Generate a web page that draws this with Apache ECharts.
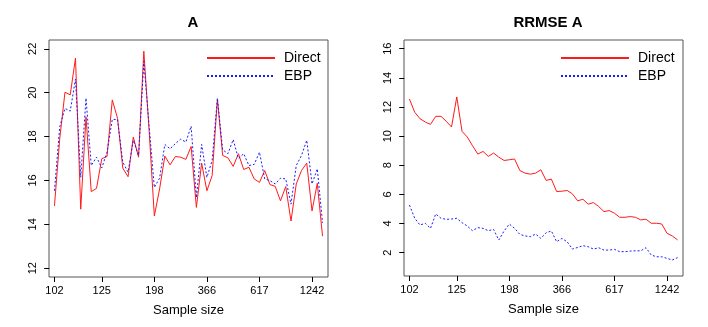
<!DOCTYPE html>
<html>
<head>
<meta charset="utf-8">
<script src="https://cdn.jsdelivr.net/npm/echarts@6/dist/echarts.min.js"></script>
<style>
html,body{margin:0;padding:0;background:#fff;}
#main{width:708px;height:327px;}
</style>
</head>
<body>
<div id="main"></div>
<script>
// x tick positions (domain index) and their sample size labels
var xTickIdx = [1, 10, 20, 30, 40, 50];
var xTickLabels = ['102', '125', '198', '366', '617', '1242'];

var yTicksA = [12, 14, 16, 18, 20, 22];
var yTicksR = [2, 4, 6, 8, 10, 12, 14, 16];

// panel A: estimates
var directA = [14.84, 17.9, 20.02, 19.9, 21.58, 14.69, 18.9, 15.49, 15.64, 16.99,
    17.09, 19.67, 18.83, 16.56, 16.17, 17.98, 17.06, 21.89, 18.3, 14.38,
    15.61, 17.11, 16.71, 17.09, 17.06, 16.96, 17.55, 14.77, 16.79, 15.53,
    16.22, 19.7, 17.14, 17.03, 16.64, 17.22, 16.5, 16.6, 16.07, 15.91,
    16.45, 15.81, 15.73, 15.07, 15.72, 14.15, 15.84, 16.45, 16.79, 14.61,
    15.87, 13.46];
var ebpA = [15.53, 18.44, 19.28, 19.16, 20.62, 16.14, 19.75, 16.68, 17.06, 16.57,
    17.29, 18.78, 18.78, 16.83, 16.38, 17.83, 17.14, 21.43, 18.5, 15.68,
    16.1, 17.64, 17.44, 17.68, 17.88, 17.75, 18.47, 15.22, 17.64, 16.14,
    16.91, 19.75, 17.4, 17.22, 17.86, 16.99, 17.22, 16.68, 16.73, 17.29,
    16.07, 15.99, 15.84, 16.1, 16.07, 14.92, 16.68, 17.14, 17.83, 15.84,
    16.53, 14.07];

// panel RRMSE A
var directR = [12.55, 11.64, 11.2, 10.97, 10.81, 11.36, 11.36, 11.02, 10.63, 12.69,
    10.33, 9.94, 9.34, 8.77, 8.95, 8.61, 8.84, 8.56, 8.33, 8.38,
    8.43, 7.64, 7.46, 7.39, 7.46, 7.69, 6.96, 7.05, 6.2, 6.22,
    6.27, 6.04, 5.56, 5.67, 5.33, 5.44, 5.17, 4.82, 4.89, 4.71,
    4.43, 4.43, 4.48, 4.43, 4.25, 4.3, 4.02, 4.02, 3.97, 3.33,
    3.15, 2.88];
var ebpR = [5.27, 4.36, 3.9, 4.02, 3.67, 4.66, 4.36, 4.29, 4.31, 4.36,
    4.06, 3.83, 3.51, 3.72, 3.67, 3.51, 3.6, 2.87, 3.49, 3.97,
    3.67, 3.26, 3.15, 3.1, 3.28, 2.98, 3.37, 3.49, 2.75, 2.98,
    2.75, 2.25, 2.36, 2.48, 2.41, 2.25, 2.34, 2.18, 2.18, 2.23,
    2.07, 2.07, 2.11, 2.13, 2.13, 2.34, 1.84, 1.72, 1.72, 1.61,
    1.5, 1.66];

function pairs(arr) {
    var out = [];
    for (var i = 0; i < arr.length; i++) out.push([i + 1, arr[i]]);
    return out;
}

var font = 'Liberation Sans, Arial, sans-serif';

function xAxisFor(gi) {
    return {
        type: 'value',
        gridIndex: gi,
        min: -0.04,
        max: 53.04,
        name: 'Sample size',
        nameLocation: 'middle',
        nameGap: 27,
        nameTextStyle: {color: '#000', fontSize: 13, fontFamily: font},
        splitLine: {show: false},
        axisLine: {show: false},
        axisTick: {show: true, inside: false, length: 5, customValues: xTickIdx,
            lineStyle: {color: '#000'}},
        axisLabel: {show: true, customValues: xTickIdx, margin: 8, color: '#000',
            fontSize: 11, fontFamily: font,
            formatter: function (v) { return xTickLabels[xTickIdx.indexOf(v)]; }}
    };
}

function yAxisFor(gi, lo, hi, ticks) {
    return {
        type: 'value',
        gridIndex: gi,
        min: lo,
        max: hi,
        splitLine: {show: false},
        axisLine: {show: false},
        axisTick: {show: true, length: 5, customValues: ticks, lineStyle: {color: '#000'}},
        axisLabel: {show: true, customValues: ticks, rotate: 90, margin: 11,
            color: '#000', fontSize: 11, fontFamily: font}
    };
}

function legendFor(left) {
    return {
        orient: 'vertical',
        left: left,
        top: 46,
        itemWidth: 68,
        itemHeight: 14,
        itemGap: 4,
        data: ['Direct', 'EBP'],
        itemStyle: {opacity: 0},
        textStyle: {color: '#000', fontSize: 14, fontFamily: font, padding: [0, 0, 0, 4]}
    };
}

var myChart = echarts.init(document.getElementById('main'));
var option = {
    animation: false,
    backgroundColor: '#fff',
    title: [
        {text: 'A', left: 188, top: 10, textAlign: 'center',
            textStyle: {fontSize: 15, fontWeight: 'bold', color: '#000', fontFamily: font}},
        {text: 'RRMSE A', left: 543, top: 10, textAlign: 'center',
            textStyle: {fontSize: 15, fontWeight: 'bold', color: '#000', fontFamily: font}}
    ],
    legend: [legendFor(201), legendFor(555)],
    grid: [
        {left: 49, top: 40, width: 279, height: 237, show: true, borderColor: '#555', borderWidth: 1},
        {left: 404, top: 40, width: 279, height: 236, show: true, borderColor: '#555', borderWidth: 1}
    ],
    xAxis: [xAxisFor(0), xAxisFor(1)],
    yAxis: [yAxisFor(0, 11.6, 22.4, yTicksA), yAxisFor(1, 0.4, 16.6, yTicksR)],
    series: [
        {name: 'Direct', type: 'line', xAxisIndex: 0, yAxisIndex: 0, symbol: 'none',
            data: pairs(directA), lineStyle: {color: '#ff1a1a', width: 1}, itemStyle: {color: '#ff1a1a'}},
        {name: 'EBP', type: 'line', xAxisIndex: 0, yAxisIndex: 0, symbol: 'none',
            data: pairs(ebpA), lineStyle: {color: '#1a1aff', width: 1, type: [2, 2]}, itemStyle: {color: '#1a1aff'}},
        {name: 'Direct', type: 'line', xAxisIndex: 1, yAxisIndex: 1, symbol: 'none',
            data: pairs(directR), lineStyle: {color: '#ff1a1a', width: 1}, itemStyle: {color: '#ff1a1a'}},
        {name: 'EBP', type: 'line', xAxisIndex: 1, yAxisIndex: 1, symbol: 'none',
            data: pairs(ebpR), lineStyle: {color: '#1a1aff', width: 1, type: [2, 2]}, itemStyle: {color: '#1a1aff'}}
    ]
};
myChart.setOption(option);
</script>
</body>
</html>
